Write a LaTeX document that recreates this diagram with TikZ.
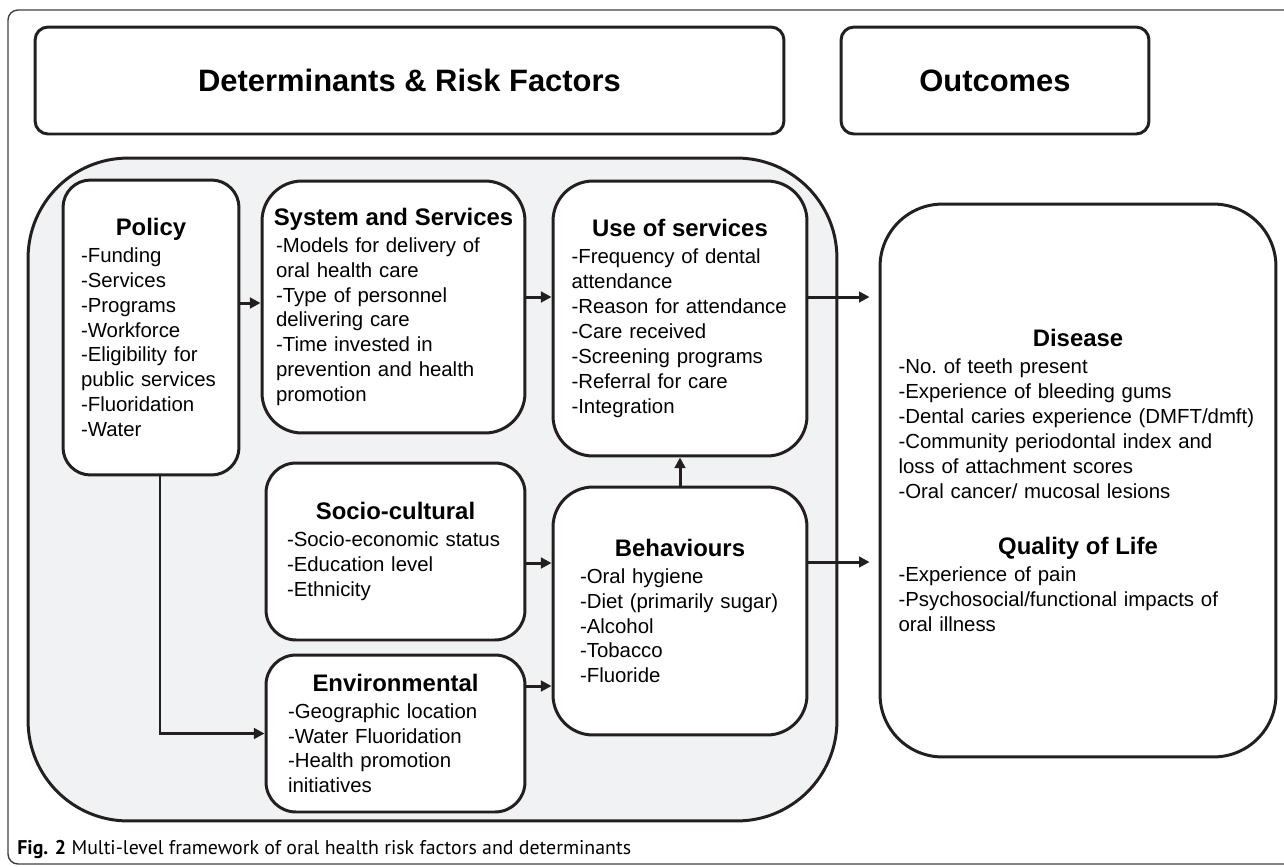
\documentclass[tikz,border=0pt]{standalone}
\usepackage{fontspec}
\setmainfont{Liberation Sans}
\newfontfamily\captionfont{PT Sans}
\usetikzlibrary{arrows.meta}

\definecolor{inkline}{HTML}{231F20}
\definecolor{regionfill}{HTML}{F1F2F3}
\newcommand{\boxheadfont}{\fontsize{13.6}{16}\selectfont\bfseries}
\newcommand{\boxhead}[1]{\makebox[\hsize]{\boxheadfont #1}}

\begin{document}
\begin{tikzpicture}[x=0.02cm, y=-0.02cm,
		header/.style={draw=inkline, line width=1.7pt, rounded corners=0.26cm, minimum height=2.14cm, font=\fontsize{17.6}{20}\selectfont\bfseries},
		region/.style={draw=inkline, line width=1.7pt, fill=regionfill, rounded corners=2cm},
		factor/.style={draw=inkline, line width=1.7pt, fill=white, rounded corners=0.6cm, align=left, inner ysep=0pt, font=\fontsize{11.6}{14.2}\selectfont},
		frame/.style={draw=black!75, line width=0.8pt, rounded corners=0.2cm}
	]
	\useasboundingbox (0,0) rectangle (1284,866);
	\draw[frame] (8,10) rectangle (1300,864);
	% top headers
	\node[header, minimum width=14.98cm] (riskhead) at (409.5,80.5) {Determinants \& Risk Factors};
	\node[header, minimum width=6.16cm] (outhead) at (995,80.5) {Outcomes};
	% shaded area behind the risk factors
	\node[region, minimum width=16.18cm, minimum height=13.26cm] (riskarea) at (432.5,489.5) {};
	\node[factor, text width=2.8cm, inner xsep=0.36cm, minimum height=5.9cm, rounded corners=0.55cm] (policy) at (151,327.5)
		{\boxhead{Policy}\\[1.1pt] -Funding\\ -Services\\ -Programs\\ -Workforce\\ -Eligibility for\\ public services\\ -Fluoridation\\ -Water};
	\node[factor, text width=4.7cm, inner xsep=0.28cm, minimum height=5.04cm, rounded corners=0.8cm] (system) at (393.5,307)
		{\boxhead{System and Services}\\[1.1pt] -Models for delivery of\\ oral health care\\ -Type of personnel\\ delivering care\\ -Time invested in\\ prevention and health\\ promotion};
	\node[factor, text width=4.34cm, inner xsep=0.37cm, minimum height=5.5cm, rounded corners=0.8cm] (use) at (680,318.5)
		{\boxhead{Use of services}\\[1.1pt] -Frequency of dental\\ attendance\\ -Reason for attendance\\ -Care received\\ -Screening programs\\ -Referral for care\\ -Integration};
	\node[factor, text width=4.34cm, inner xsep=0.42cm, minimum height=3.54cm] (socio) at (395.5,551.5)
		{\boxhead{Socio-cultural}\\[1.1pt] -Socio-economic status\\ -Education level\\ -Ethnicity};
	\node[factor, text width=4.0cm, inner xsep=0.54cm, minimum height=4.96cm, rounded corners=0.8cm] (behaviours) at (680,611)
		{\boxhead{Behaviours}\\[1.1pt] -Oral hygiene\\ -Diet (primarily sugar)\\ -Alcohol\\ -Tobacco\\ -Fluoride};
	\node[factor, text width=4.3cm, inner xsep=0.44cm, minimum height=3.14cm] (env) at (395.5,733.5)
		{\boxhead{Environmental}\\[1.1pt] -Geographic location\\ -Water Fluoridation\\ -Health promotion\\ initiatives};
	\node[factor, text width=7.18cm, inner xsep=0.37cm, minimum height=11.06cm, rounded corners=1.25cm] (outcome) at (1078,480.5)
		{\boxhead{Disease}\\[1.1pt] -No.\ of teeth present\\ -Experience of bleeding gums\\ -Dental caries experience (DMFT/dmft)\\ -Community periodontal index and\\ loss of attachment scores\\ -Oral cancer/ mucosal lesions\\[18.1pt]
		\boxhead{Quality of Life}\\[1.1pt] -Experience of pain\\ -Psychosocial/functional impacts of\\ oral illness};
	\begin{scope}[line width=1.7pt, draw=inkline, -{Triangle[length=6pt, width=6pt]}]
	\draw ([yshift=0.49cm]policy.east) coordinate (policyout) -- (policyout -| system.west);
	\draw ([yshift=0.2cm]system.east) coordinate (systemout) -- (systemout -| use.west);
	\draw[shorten >=0.18cm] ([yshift=0.43cm]use.east) coordinate (useout) -- (useout -| outcome.west);
	\draw (behaviours.north) -- (use.south);
	\draw ([yshift=-0.23cm]socio.east) coordinate (socioout) -- (socioout -| behaviours.west);
	\draw ([yshift=0.95cm]env.east) coordinate (envout) -- (envout -| behaviours.west);
	\draw[shorten >=0.18cm] ([yshift=0.98cm]behaviours.east) coordinate (behavout) -- (behavout -| outcome.west);
	\draw ([xshift=0.18cm]policy.south) |- (env.west);
	\end{scope}
	\node[anchor=base west, inner sep=0pt, font=\captionfont\fontsize{11.3}{13}\selectfont] (caption) at (17,854)
		{\textbf{Fig. 2} Multi-level framework of oral health risk factors and determinants};
\end{tikzpicture}
\end{document}
